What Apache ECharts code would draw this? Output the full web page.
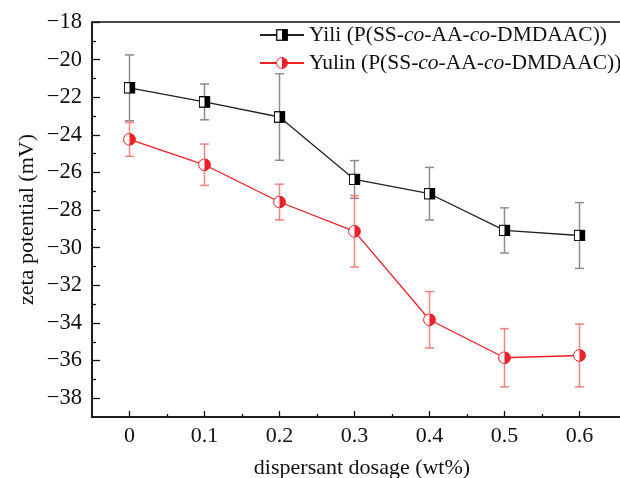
<!DOCTYPE html>
<html>
<head>
<meta charset="utf-8">
<title>Zeta potential vs dispersant dosage</title>
<script src="https://cdn.jsdelivr.net/npm/echarts@6/dist/echarts.min.js"></script>
<style>
  html, body { margin: 0; padding: 0; background: #fff; }
  #chart { width: 620px; height: 478px; }
</style>
</head>
<body>
<div id="chart"></div>
<script>
// Dispersant dosage (wt%)
const dosage = [0, 0.1, 0.2, 0.3, 0.4, 0.5, 0.6];
// Zeta potential (mV) and standard deviations
const yiliZeta = [-21.5, -22.25, -23.05, -26.37, -27.13, -29.08, -29.35];
const yiliErr = [1.75, 0.95, 2.3, 1.0, 1.4, 1.2, 1.75];
const yulinZeta = [-24.24, -25.59, -27.57, -29.13, -33.83, -35.85, -35.73];
const yulinErr = [0.9, 1.1, 0.95, 1.9, 1.5, 1.55, 1.67];

const seriesNames = ['Yili', 'Yulin'];
const xTicks = [0, 0.1, 0.2, 0.3, 0.4, 0.5, 0.6];
const xMinorTicks = [0.05, 0.15, 0.25, 0.35, 0.45, 0.55];
const yTicks = [-38, -36, -34, -32, -30, -28, -26, -24, -22, -20, -18];
const yMinorTicks = [-37, -35, -33, -31, -29, -27, -25, -23, -21, -19];

const RED = '#ec2027';
const FONT = '"Liberation Serif", "DejaVu Serif", serif';

// Half-filled markers as small inline SVG images
function svgSymbol(svg) {
  return 'image://data:image/svg+xml;charset=utf-8,' + encodeURIComponent(svg);
}
const squareHalf = svgSymbol(
  "<svg xmlns='http://www.w3.org/2000/svg' width='24' height='24' viewBox='0 0 24 24'>" +
  "<rect x='1.5' y='1.5' width='21' height='21' fill='#fff' stroke='#000' stroke-width='2.5'/>" +
  "<rect x='12' y='1.5' width='10.5' height='21' fill='#000'/></svg>");
const circleHalf = svgSymbol(
  "<svg xmlns='http://www.w3.org/2000/svg' width='26' height='26' viewBox='0 0 26 26'>" +
  "<circle cx='13' cy='13' r='11.8' fill='#fff' stroke='" + RED + "' stroke-width='2'/>" +
  "<path d='M13 1.2 A11.8 11.8 0 0 1 13 24.8 Z' fill='" + RED + "'/></svg>");

function pairs(ys) { return dosage.map((x, i) => [x, ys[i]]); }
function errRows(ys, es) { return dosage.map((x, i) => [x, ys[i] - es[i], ys[i] + es[i]]); }

function errorBars(color) {
  return function (params, api) {
    const x = api.value(0);
    const lo = api.coord([x, api.value(1)]);
    const hi = api.coord([x, api.value(2)]);
    const cap = 4.5;
    const style = { stroke: color, lineWidth: 1.5 };
    return {
      type: 'group',
      children: [
        { type: 'line', shape: { x1: lo[0], y1: lo[1], x2: hi[0], y2: hi[1] }, style },
        { type: 'line', shape: { x1: lo[0] - cap, y1: lo[1], x2: lo[0] + cap, y2: lo[1] }, style },
        { type: 'line', shape: { x1: hi[0] - cap, y1: hi[1], x2: hi[0] + cap, y2: hi[1] }, style }
      ]
    };
  };
}

const fmtMinus = v => (v < 0 ? '\u2212' : '') + Math.abs(v);
const tickLine = { color: '#111', width: 1.3 };
const X_RANGE = { min: -0.05, max: 0.67 };
const Y_RANGE = { min: -39, max: -18 };

// A bare axis that only draws inward ticks at the given values
function tickAxis(range, position, values, len) {
  return Object.assign({
    type: 'value',
    position: position,
    offset: 0,
    axisLine: { show: false, onZero: false },
    axisTick: { show: true, inside: true, length: len, customValues: values, lineStyle: tickLine },
    axisLabel: { show: false },
    splitLine: { show: false }
  }, range);
}

const chart = echarts.init(document.getElementById('chart'));
chart.setOption({
  animation: false,
  backgroundColor: '#fff',
  textStyle: { fontFamily: FONT },
  grid: {
    left: 92, top: 22, width: 540, height: 395,
    outerBoundsMode: 'none', containLabel: false,
    show: true, borderColor: '#111', borderWidth: 1.5, backgroundColor: 'transparent'
  },
  legend: {
    orient: 'vertical',
    left: 254, top: 19,
    itemWidth: 44, itemHeight: 15, itemGap: 6,
    data: seriesNames.slice(),
    formatter: name => name + ' (P(SS-{i|co}-AA-{i|co}-DMDAAC))',
    textStyle: {
      fontFamily: FONT, fontSize: 21.5, color: '#111', lineHeight: 21,
      rich: { i: { fontFamily: FONT, fontSize: 21.5, fontStyle: 'italic', color: '#111' } }
    }
  },
  xAxis: [
    Object.assign({
      type: 'value',
      position: 'bottom',
      name: 'dispersant dosage (wt%)', nameLocation: 'middle', nameGap: 40, nameMoveOverlap: false,
      nameTextStyle: { fontFamily: FONT, fontSize: 22, color: '#111', verticalAlign: 'top' },
      axisLine: { show: true, onZero: false, lineStyle: { color: '#111', width: 1.5 } },
      axisTick: { show: false },
      axisLabel: { show: true, customValues: xTicks, margin: 8, fontFamily: FONT, fontSize: 22, color: '#111', formatter: v => String(v) },
      splitLine: { show: false }
    }, X_RANGE),
    tickAxis(X_RANGE, 'bottom', xTicks, 6),
    tickAxis(X_RANGE, 'bottom', xMinorTicks, 3)
  ],
  yAxis: [
    Object.assign({
      type: 'value',
      position: 'left',
      name: 'zeta potential (mV)', nameLocation: 'middle', nameGap: 54, nameMoveOverlap: false,
      nameTextStyle: { fontFamily: FONT, fontSize: 22, color: '#111' },
      axisLine: { show: true, onZero: false, lineStyle: { color: '#111', width: 1.5 } },
      axisTick: { show: false },
      axisLabel: { show: true, customValues: yTicks, margin: 10, fontFamily: FONT, fontSize: 22.5, color: '#111', formatter: fmtMinus },
      splitLine: { show: false }
    }, Y_RANGE),
    tickAxis(Y_RANGE, 'left', yTicks, 8),
    tickAxis(Y_RANGE, 'left', yMinorTicks, 4)
  ],
  series: [
    {
      type: 'custom', name: 'Yili error', z: 1,
      renderItem: errorBars('#8c8c8c'),
      encode: { x: 0, y: [1, 2] },
      data: errRows(yiliZeta, yiliErr)
    },
    {
      type: 'custom', name: 'Yulin error', z: 1,
      renderItem: errorBars('rgba(240, 90, 90, 0.75)'),
      encode: { x: 0, y: [1, 2] },
      data: errRows(yulinZeta, yulinErr)
    },
    {
      type: 'line', name: seriesNames[0], z: 3,
      data: pairs(yiliZeta),
      symbol: squareHalf, symbolSize: 12,
      lineStyle: { color: '#222', width: 1.3 },
      itemStyle: { color: '#222' }
    },
    {
      type: 'line', name: seriesNames[1], z: 3,
      data: pairs(yulinZeta),
      symbol: circleHalf, symbolSize: 13,
      lineStyle: { color: RED, width: 1.3 },
      itemStyle: { color: RED }
    }
  ]
});
</script>
</body>
</html>
